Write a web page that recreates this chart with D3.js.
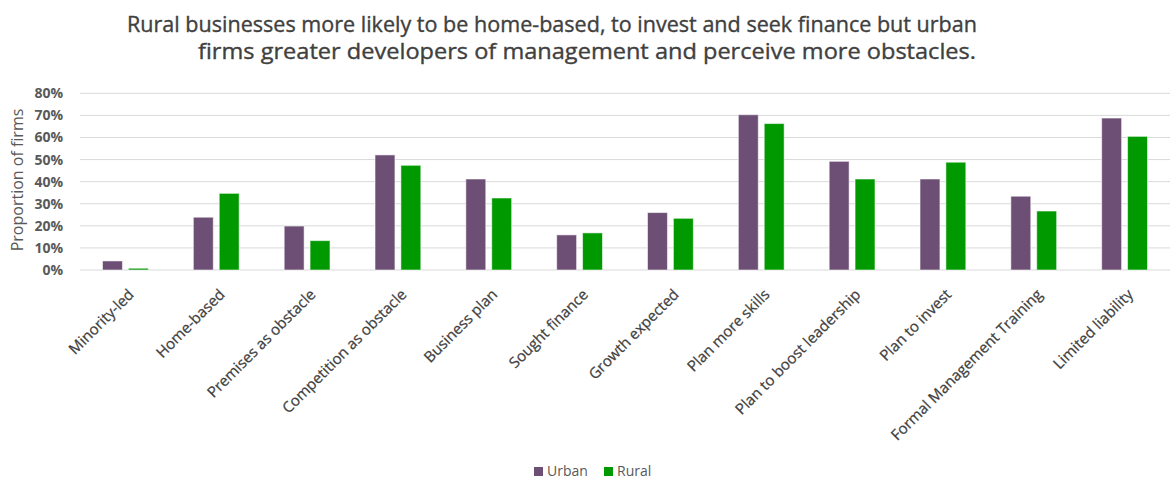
<!DOCTYPE html>
<html>
<head>
<meta charset="utf-8">
<script src="https://cdn.jsdelivr.net/npm/d3@7"></script>
<style>
  body { margin: 0; background: #fff; }
  text { font-family: "Open Sans", "DejaVu Sans", sans-serif; }
</style>
</head>
<body>
<div id="chart"></div>
<script>
// data
const categories = ["Minority-led", "Home-based", "Premises as obstacle", "Competition as obstacle",
    "Business plan", "Sought finance", "Growth expected", "Plan more skills",
    "Plan to boost leadership", "Plan to invest", "Formal Management Training", "Limited liability"];
const urbanValues = [4.1, 23.9, 19.9, 52.1, 41.2, 15.9, 26.0, 70.3, 49.2, 41.2, 33.4, 68.8];
const ruralValues = [0.8, 34.7, 13.3, 47.4, 32.6, 16.8, 23.4, 66.3, 41.2, 48.8, 26.7, 60.5];
const seriesNames = ["Urban", "Rural"];
const seriesColors = ["#6d4f75", "#009900"];
const yTicks = [0, 10, 20, 30, 40, 50, 60, 70, 80];

const width = 1174, height = 480;
const margin = {top: 93, right: 4, bottom: 210, left: 80};

const svg = d3.select("#chart").append("svg")
    .attr("width", width)
    .attr("height", height);

// title, two lines as in the original
const titleLines = [
    {text: "Rural businesses more likely to be home-based, to invest and seek finance but urban", x: 127, y: 32, len: 850},
    {text: "firms greater developers of management and perceive more obstacles.", x: 198, y: 59, len: 778}
];
svg.append("g").selectAll("text")
    .data(titleLines)
    .enter().append("text")
    .attr("x", d => d.x)
    .attr("y", d => d.y)
    .attr("textLength", d => d.len)
    .attr("lengthAdjust", "spacingAndGlyphs")
    .attr("font-size", 21)
    .attr("fill", "#404040")
    .attr("stroke", "#404040")
    .attr("stroke-width", 0.35)
    .text(d => d.text);

const x0 = d3.scaleBand()
    .domain(categories)
    .range([margin.left, width - margin.right]);

const x1 = d3.scaleBand()
    .domain(seriesNames)
    .range([0, x0.bandwidth()])
    .paddingInner(0.23)
    .paddingOuter(0.87);

// 0% sits at y = 270, 80% at ~93
const y = d3.scaleLinear()
    .domain([0, 80])
    .range([270, 93.3]);

// gridlines
svg.append("g")
    .selectAll("line")
    .data(yTicks)
    .enter().append("line")
    .attr("x1", margin.left)
    .attr("x2", width - margin.right)
    .attr("y1", d => y(d))
    .attr("y2", d => y(d))
    .attr("stroke", "#d9d9d9")
    .attr("stroke-width", 1);

// y axis
const yAxis = svg.append("g")
    .attr("transform", `translate(${margin.left},0)`)
    .call(d3.axisLeft(y).tickValues(yTicks).tickFormat(d => d + "%").tickSize(0).tickPadding(17));
yAxis.select(".domain").remove();
yAxis.selectAll("text")
    .attr("font-size", 14)
    .attr("font-weight", "bold")
    .attr("fill", "#595959")
    .style("font-family", "'Open Sans', sans-serif");

svg.append("text")
    .attr("transform", "translate(23, 180) rotate(-90)")
    .attr("text-anchor", "middle")
    .attr("font-size", 16)
    .attr("fill", "#595959")
    .text("Proportion of firms");

// bars
const rows = categories.map((c, i) => ({cat: c, values: [urbanValues[i], ruralValues[i]]}));

const groups = svg.append("g")
    .selectAll("g")
    .data(rows)
    .enter().append("g")
    .attr("transform", d => `translate(${x0(d.cat)},0)`);

groups.selectAll("rect")
    .data(d => d.values.map((v, j) => ({key: seriesNames[j], value: v, color: seriesColors[j]})))
    .enter().append("rect")
    .attr("x", d => x1(d.key))
    .attr("width", x1.bandwidth())
    .attr("y", d => y(d.value))
    .attr("height", d => y(0) - y(d.value))
    .attr("fill", d => d.color)
    .attr("stroke", "rgba(255,255,255,0.55)")
    .attr("stroke-width", 1);

// x labels rotated
svg.append("g")
    .selectAll("text")
    .data(categories)
    .enter().append("text")
    .attr("transform", d => `translate(${x0(d) + x0.bandwidth() / 2 + 2},${288}) rotate(-45)`)
    .attr("text-anchor", "end")
    .attr("dy", "0.7em")
    .attr("font-size", 15)
    .attr("fill", "#404040")
    .attr("stroke", "#404040")
    .attr("stroke-width", 0.25)
    .text(d => d);

// legend
const legend = svg.append("g")
    .attr("transform", "translate(534, 467)");
const legendItems = legend.selectAll("g")
    .data(seriesNames)
    .enter().append("g")
    .attr("transform", (d, i) => `translate(${i * 70},0)`);
legendItems.append("rect")
    .attr("width", 9)
    .attr("height", 9)
    .attr("fill", (d, i) => seriesColors[i]);
legendItems.append("text")
    .attr("x", 13)
    .attr("y", 9)
    .attr("font-size", 14)
    .attr("fill", "#595959")
    .text(d => d);
</script>
</body>
</html>
